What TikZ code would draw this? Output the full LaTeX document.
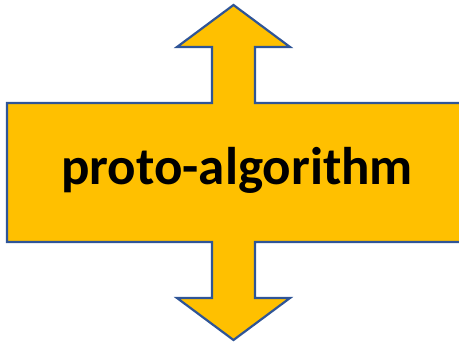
\documentclass[tikz,border=0pt]{standalone}
\usepackage{fontspec}
\setmainfont{Carlito}
\usetikzlibrary{positioning}
\definecolor{boxgold}{RGB}{255,192,0}
\definecolor{boxblue}{RGB}{47,85,151}

\begin{document}
\begin{tikzpicture}[
        x=1pt, y=-1pt,
        arrowbox/.style={fill=boxgold, draw=boxblue, line width=2.2pt, line join=miter},
        titletext/.style={font=\fontsize{53}{60}\selectfont\bfseries, anchor=base, inner sep=0pt},
    ]

    \useasboundingbox (0,0) rectangle (459,344);

    % Draw the box with the two arrows
    \draw[arrowbox] (7,103) -- (212,103) -- (212,47) -- (177,47) -- (233.5,5)
        -- (290,47) -- (255,47) -- (255,103) -- (462,103) -- (462,242)
        -- (255,242) -- (255,298) -- (290,298) -- (233.5,340) -- (177,298)
        -- (212,298) -- (212,242) -- (7,242) -- cycle;

    % Draw the label
    \node[titletext] (title) at (237,185) {proto-algorithm};
\end{tikzpicture}
\end{document}
